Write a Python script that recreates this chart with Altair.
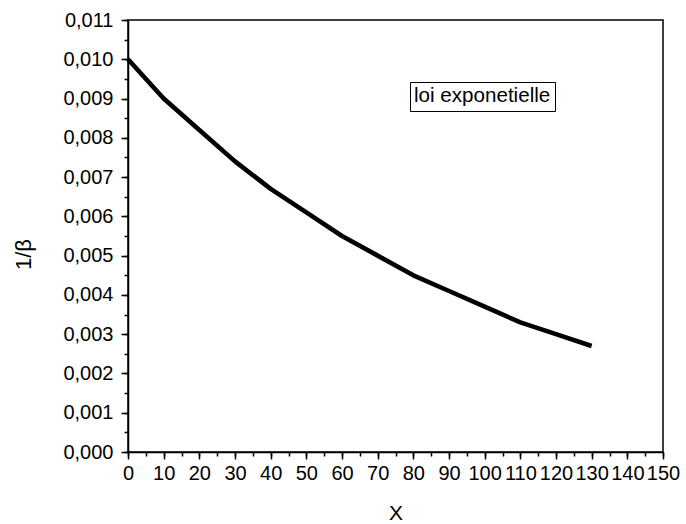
import altair as alt
import pandas as pd

x_vals = [0, 10, 20, 30, 40, 50, 60, 70, 80, 90, 100, 110, 120, 130]
y_vals = [0.0100, 0.0090, 0.0082, 0.0074, 0.0067, 0.0061, 0.0055,
          0.0050, 0.0045, 0.0041, 0.0037, 0.0033, 0.0030, 0.0027]
series_name = "loi exponetielle"

x_major = list(range(0, 151, 10))
x_minor = list(range(0, 151, 5))
y_major = [i / 1000 for i in range(0, 12)]
y_minor = [i / 2000 for i in range(0, 23)]

df = pd.DataFrame({"x": x_vals, "y": y_vals, "series": [series_name] * len(x_vals)})

FONT = "Liberation Sans"

xscale = alt.Scale(domain=[0, 150], nice=False, zero=False)
yscale = alt.Scale(domain=[0, 0.011], nice=False, zero=False)

line = alt.Chart(df).mark_line(strokeWidth=4.6, color="black", strokeJoin="round").encode(
    x=alt.X("x:Q", scale=xscale,
            axis=alt.Axis(values=x_major, title="X", orient="bottom", tickSize=7,
                          labelPadding=4, titlePadding=19, format="d",
                          labelOverlap=False, labelFlush=False, titleFontSize=21)),
    y=alt.Y("y:Q", scale=yscale,
            axis=alt.Axis(values=y_major, title="1/β", orient="left", tickSize=7,
                          labelPadding=8, labelOverlap=False, labelFlush=False,
                          labelExpr="replace(format(datum.value, '.3f'), '.', ',')",
                          titleX=-105, titleY=234, titleBaseline="middle",
                          titleAlign="center", titleAngle=-90, titleFontSize=22)),
)

minor = alt.Chart(df).mark_point(opacity=0, size=0).encode(
    x=alt.X("x:Q", scale=xscale,
            axis=alt.Axis(values=x_minor, labels=False, title=None, orient="bottom",
                          tickSize=4, domain=False)),
    y=alt.Y("y:Q", scale=yscale,
            axis=alt.Axis(values=y_minor, labels=False, title=None, orient="left",
                          tickSize=4, domain=False)),
    color=alt.Color("series:N", scale=alt.Scale(range=["black"]),
                    legend=alt.Legend(title=series_name, orient="none", legendX=282, legendY=62,
                                      strokeColor="black", fillColor="white", padding=4,
                                      titleFontSize=20.6, titleFont=FONT, titleColor="black",
                                      titleFontWeight="normal", titlePadding=-5,
                                      titleBaseline="top", titleAnchor="start",
                                      symbolSize=0, symbolStrokeWidth=0, symbolOpacity=0,
                                      labelExpr="''", labelFontSize=0, labelOffset=0)),
)

chart = alt.layer(line, minor).resolve_axis(x="independent", y="independent").properties(
    width=535, height=432,
    autosize=alt.AutoSizeParams(type="none"),
    padding={"left": 128, "top": 20, "right": 23, "bottom": 72},
).configure(background="white").configure_view(stroke="black", strokeWidth=1.5).configure_axis(
    grid=False, domainColor="black", domainWidth=1.5, tickColor="black", tickWidth=1.5,
    labelFont=FONT, labelFontSize=20, labelColor="black",
    titleFont=FONT, titleFontSize=20, titleColor="black", titleFontWeight="normal",
)

chart.save("out.html", embed_options={"renderer": "svg", "actions": False})
